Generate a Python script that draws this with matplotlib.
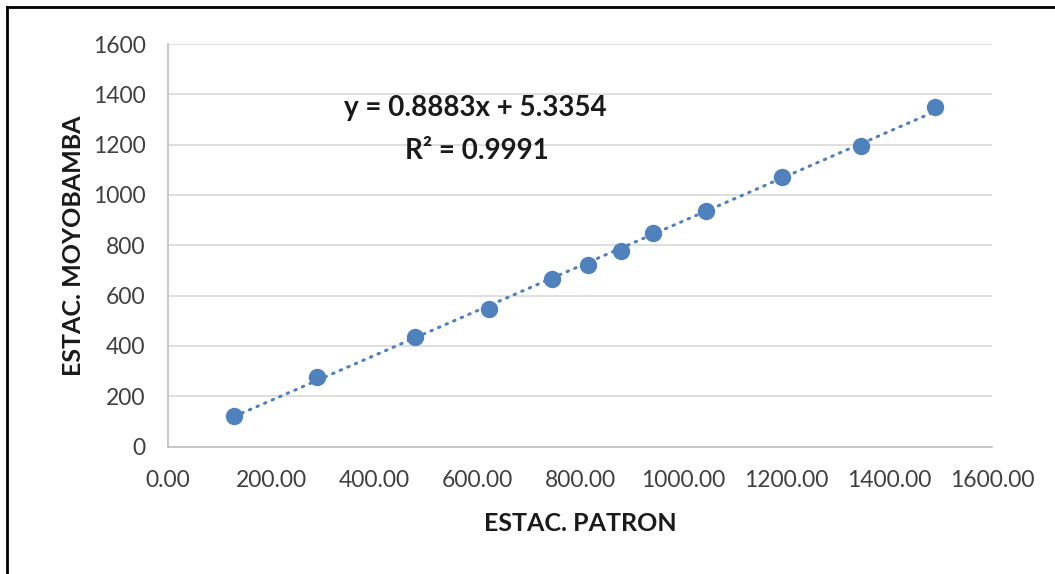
import numpy as np
import matplotlib.pyplot as plt
from matplotlib.lines import Line2D

# --- data ---
estac_patron = [128.7, 288.7, 480.2, 623.3, 745.0, 816.1, 879.6, 942.3, 1044.0, 1191.6, 1345.0, 1490.0]
estac_moyobamba = [122.4, 277.4, 436.4, 546.5, 665.7, 721.4, 778.2, 847.4, 936.0, 1070.0, 1194.0, 1350.6]
eq_text = "y = 0.8883x + 5.3354"
r2_text = "R² = 0.9991"
x_ticks = [0, 200, 400, 600, 800, 1000, 1200, 1400, 1600]
y_ticks = [0, 200, 400, 600, 800, 1000, 1200, 1400, 1600]

plt.rcParams['font.family'] = ['Lato', 'DejaVu Sans']
blue = "#4f81bd"

fig = plt.figure(figsize=(10.55, 5.74), dpi=100)
ax = fig.add_axes([0.1592, 0.2221, 0.7811, 0.7012])

x = np.array(estac_patron)
y = np.array(estac_moyobamba)

# linear trend line through the points
slope, intercept = np.polyfit(x, y, 1)
xl = np.array([x.min(), x.max()])
ax.plot(xl, slope * xl + intercept, color=blue, linewidth=2.2,
        linestyle=(0, (0.5, 2.2)), dash_capstyle='round', zorder=2)
ax.plot(x, y, 'o', color=blue, markersize=11.5, zorder=3)

ax.set_xlim(0, 1600)
ax.set_ylim(0, 1600)
ax.set_xticks(x_ticks)
ax.set_yticks(y_ticks)
ax.set_xticklabels([f"{v:.2f}" for v in x_ticks])
ax.tick_params(length=0, labelsize=16.5, colors="#404040")
ax.tick_params(axis='x', pad=17)
ax.tick_params(axis='y', pad=16)
ax.grid(axis='y', color="#d9d9d9", linewidth=1.2)
ax.set_axisbelow(True)
for s in ['top', 'right']:
    ax.spines[s].set_visible(False)
for s in ['left', 'bottom']:
    ax.spines[s].set_color("#bfbfbf")
    ax.spines[s].set_linewidth(1.2)

ax.set_xlabel("ESTAC. PATRON", fontsize=18, fontweight='bold', color="#1a1a1a", labelpad=15)
ax.set_ylabel("ESTAC. MOYOBAMBA", fontsize=18, fontweight='bold', color="#1a1a1a", labelpad=6)

ax.text(0.373, 0.840, eq_text, transform=ax.transAxes, ha='center', va='center',
        fontsize=20, fontweight='bold', color="#1a1a1a")
ax.text(0.375, 0.733, r2_text, transform=ax.transAxes, ha='center', va='center',
        fontsize=20, fontweight='bold', color="#1a1a1a")

# outer frame lines (top and left only, as in the screenshot)
fig.add_artist(Line2D([7 / 1055, 1], [1 - 7 / 574, 1 - 7 / 574], color='black', linewidth=2, transform=fig.transFigure))
fig.add_artist(Line2D([7 / 1055, 7 / 1055], [0, 1 - 7 / 574], color='black', linewidth=2, transform=fig.transFigure))

plt.savefig("out.png", dpi=100)
